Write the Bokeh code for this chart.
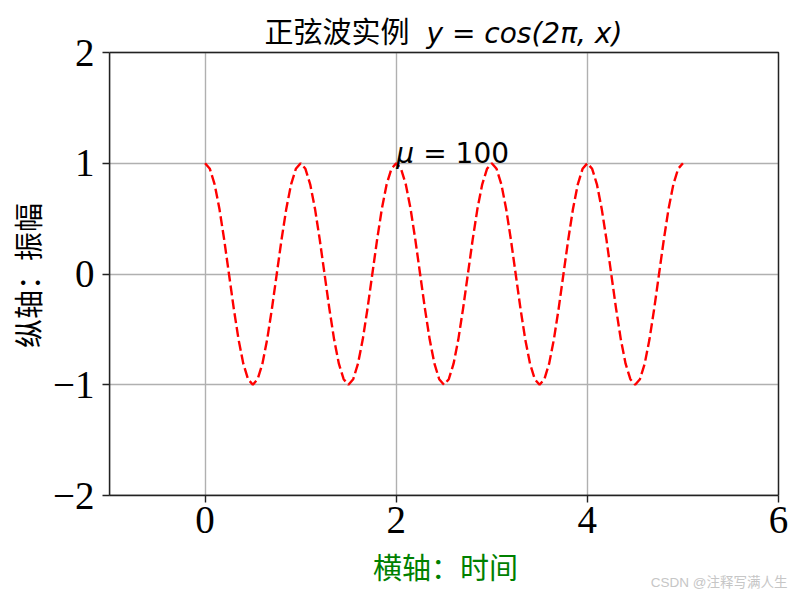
import numpy as np
from bokeh.plotting import figure
from bokeh.models import Range1d, FixedTicker, Label, BoxAnnotation, Grid
from bokeh.embed import file_html
from bokeh.resources import INLINE

# ---- data ----
x_vals = [0.00, 0.05, 0.10, 0.15, 0.20, 0.25, 0.30, 0.35, 0.40, 0.45,
          0.50, 0.55, 0.60, 0.65, 0.70, 0.75, 0.80, 0.85, 0.90, 0.95,
          1.00, 1.05, 1.10, 1.15, 1.20, 1.25, 1.30, 1.35, 1.40, 1.45,
          1.50, 1.55, 1.60, 1.65, 1.70, 1.75, 1.80, 1.85, 1.90, 1.95,
          2.00, 2.05, 2.10, 2.15, 2.20, 2.25, 2.30, 2.35, 2.40, 2.45,
          2.50, 2.55, 2.60, 2.65, 2.70, 2.75, 2.80, 2.85, 2.90, 2.95,
          3.00, 3.05, 3.10, 3.15, 3.20, 3.25, 3.30, 3.35, 3.40, 3.45,
          3.50, 3.55, 3.60, 3.65, 3.70, 3.75, 3.80, 3.85, 3.90, 3.95,
          4.00, 4.05, 4.10, 4.15, 4.20, 4.25, 4.30, 4.35, 4.40, 4.45,
          4.50, 4.55, 4.60, 4.65, 4.70, 4.75, 4.80, 4.85, 4.90, 4.95,
          5.00]
y_vals = [1.00, 0.95, 0.81, 0.59, 0.31, 0.00, -0.31, -0.59, -0.81, -0.95,
          -1.00, -0.95, -0.81, -0.59, -0.31, 0.00, 0.31, 0.59, 0.81, 0.95,
          1.00, 0.95, 0.81, 0.59, 0.31, 0.00, -0.31, -0.59, -0.81, -0.95,
          -1.00, -0.95, -0.81, -0.59, -0.31, 0.00, 0.31, 0.59, 0.81, 0.95,
          1.00, 0.95, 0.81, 0.59, 0.31, 0.00, -0.31, -0.59, -0.81, -0.95,
          -1.00, -0.95, -0.81, -0.59, -0.31, 0.00, 0.31, 0.59, 0.81, 0.95,
          1.00, 0.95, 0.81, 0.59, 0.31, 0.00, -0.31, -0.59, -0.81, -0.95,
          -1.00, -0.95, -0.81, -0.59, -0.31, 0.00, 0.31, 0.59, 0.81, 0.95,
          1.00, 0.95, 0.81, 0.59, 0.31, 0.00, -0.31, -0.59, -0.81, -0.95,
          -1.00, -0.95, -0.81, -0.59, -0.31, 0.00, 0.31, 0.59, 0.81, 0.95,
          1.00]
x_ticks = [0, 2, 4, 6]
y_ticks = [-2, -1, 0, 1, 2]
y_tick_labels = {-2: "\u22122", -1: "\u22121", 0: "0", 1: "1", 2: "2"}
x_limits = (-1, 6)
y_limits = (-2, 2)
title_cn = "正弦波实例"
title_math = "y = cos(2π, x)"
x_label = "横轴：时间"
y_label = "纵轴：振幅"
note_sym = "μ"
note_rest = "= 100"
note_pos = (2, 1)
watermark = "CSDN @注释写满人生"

# ---- layout (canvas pixels) ----
W, H = 800, 597
BL, BT, BW, BH = 109, 52, 669, 443      # the axes box
PAD_R = 3                                 # frame reaches a little past the right spine
x_per_px = (x_limits[1] - x_limits[0]) / BW
y_per_px = (y_limits[1] - y_limits[0]) / BH

# the frame spans from the canvas top (title area) down to the bottom of the box
x_range = Range1d(x_limits[0], x_limits[1] + PAD_R * x_per_px)
y_range = Range1d(y_limits[0], y_limits[1] + BT * y_per_px)

p = figure(frame_width=BW + PAD_R, frame_height=BT + BH,
           min_border_left=BL, min_border_top=0,
           min_border_right=W - BL - BW - PAD_R, min_border_bottom=H - BT - BH,
           x_range=x_range, y_range=y_range,
           output_backend="svg", toolbar_location=None)
p.background_fill_color = "white"
p.border_fill_color = "white"
p.outline_line_color = None

# grid
p.xgrid.ticker = FixedTicker(ticks=x_ticks)
p.ygrid.ticker = FixedTicker(ticks=y_ticks)
p.grid.grid_line_color = "#b0b0b0"
p.grid.grid_line_width = 1.4
if "cross_bounds" in Grid.properties():
    p.xgrid.cross_bounds = y_limits
    p.ygrid.cross_bounds = x_limits
else:
    p.xgrid.visible = False
    p.segment(x0=x_ticks, y0=[y_limits[0]] * len(x_ticks),
              x1=x_ticks, y1=[y_limits[1]] * len(x_ticks),
              line_color="#b0b0b0", line_width=1.4)

p.line(x_vals, y_vals, line_color="red", line_width=2.4, line_dash="10 4")

# the box (spines)
p.add_layout(BoxAnnotation(left=x_limits[0], right=x_limits[1],
                           bottom=y_limits[0], top=y_limits[1],
                           fill_alpha=0, fill_color=None,
                           line_color="#222222", line_alpha=1.0, line_dash="solid",
                           line_width=1.4, level="overlay"))

for ax in (p.xaxis[0], p.yaxis[0]):
    ax.axis_line_color = "#222222"
    ax.axis_line_width = 1.4
    ax.major_tick_line_color = "#222222"
    ax.major_tick_line_width = 1.4
    ax.major_tick_out = 7
    ax.major_tick_in = 0
    ax.minor_tick_out = 0
    ax.minor_tick_in = 0
    ax.major_label_text_font = "Liberation Serif"
    ax.major_label_text_font_size = "39px"
    ax.major_label_text_color = "black"
p.xaxis.major_label_standoff = 4
p.yaxis.major_label_standoff = 8
p.xaxis.bounds = x_limits
p.yaxis.bounds = y_limits
p.xaxis.ticker = FixedTicker(ticks=x_ticks)
p.yaxis.ticker = FixedTicker(ticks=y_ticks)
p.yaxis.major_label_overrides = y_tick_labels


def xd(px):
    return x_limits[0] + (px - BL) * x_per_px


def yd(py):
    return y_limits[1] - (py - BT) * y_per_px


# annotation inside the box (baseline on y = 1)
p.add_layout(Label(x=note_pos[0], y=note_pos[1], y_offset=10, text=note_sym,
                   text_font="DejaVu Sans", text_font_style="italic",
                   text_font_size="28px", text_align="left",
                   text_baseline="alphabetic", text_color="black"))
p.add_layout(Label(x=note_pos[0], y=note_pos[1], x_offset=27, y_offset=10, text=note_rest,
                   text_font="DejaVu Sans", text_font_size="28px", text_align="left",
                   text_baseline="alphabetic", text_color="black"))

# title (inside the frame's upper strip)
p.add_layout(Label(x=xd(264), y=yd(42), y_offset=13, text=title_cn,
                   text_font="Noto Sans CJK SC",
                   text_font_size="29px", text_align="left", text_baseline="alphabetic",
                   text_color="black"))
p.add_layout(Label(x=xd(426), y=yd(43), y_offset=10, text=title_math,
                   text_font="DejaVu Sans",
                   text_font_style="italic", text_font_size="28px", text_align="left",
                   text_baseline="alphabetic", text_color="black"))

# axis titles and watermark in the side panels
p.add_layout(Label(x=xd(26), y=yd(275), text=y_label, text_font="Noto Sans CJK SC",
                   text_font_size="29px", text_align="center", text_baseline="middle",
                   angle=np.pi / 2, text_color="black"), "left")
p.add_layout(Label(x=xd(445), y=yd(568), text=x_label,
                   text_font="Liberation Serif, Noto Sans CJK SC",
                   text_font_size="29px", text_align="center", text_baseline="middle",
                   text_color="green"), "below")
p.add_layout(Label(x=xd(787), y=yd(582), text=watermark,
                   text_font="Liberation Sans, Noto Sans CJK SC",
                   text_font_size="13.5px", text_align="right", text_baseline="middle",
                   text_color="#c6c6c6"), "below")

open("out.html", "w").write(file_html(p, INLINE))
